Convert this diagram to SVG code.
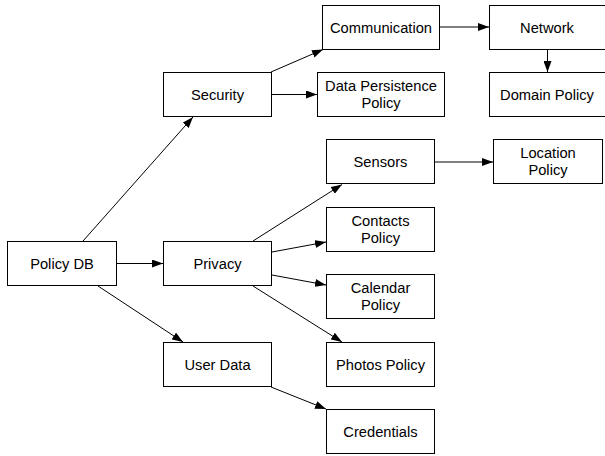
<svg xmlns="http://www.w3.org/2000/svg" width="605" height="456" viewBox="0 0 605 456">
<defs>
<style>
.box{fill:#fff;stroke:#000;stroke-width:1}
.lbl{font-family:"Liberation Sans",Helvetica,Arial,sans-serif;font-size:14.7px;fill:#000;text-anchor:middle}
.edge{stroke:#000;stroke-width:1;fill:none;marker-end:url(#arr)}
</style>
<marker id="arr" viewBox="0 0 11 8" markerWidth="11" markerHeight="8" markerUnits="userSpaceOnUse" refX="11" refY="4" orient="auto">
<path d="M0,0 L11,4 L0,8 z" fill="#000"/>
</marker>
</defs>
<rect width="605" height="456" fill="#fff"/>
<g id="connectors">
<line class="edge" x1="83" y1="241" x2="193" y2="117"/>
<line class="edge" x1="117" y1="263.5" x2="163" y2="263.5"/>
<line class="edge" x1="98" y1="286" x2="183" y2="342"/>
<line class="edge" x1="271" y1="72" x2="323" y2="49.5"/>
<line class="edge" x1="271" y1="94.5" x2="317" y2="94.5"/>
<line class="edge" x1="439" y1="27" x2="489" y2="27"/>
<line class="edge" x1="547.5" y1="49.5" x2="547.5" y2="72"/>
<line class="edge" x1="253" y1="241" x2="342" y2="184.5"/>
<line class="edge" x1="272" y1="252" x2="326" y2="242"/>
<line class="edge" x1="272" y1="275" x2="326" y2="285"/>
<line class="edge" x1="253" y1="286" x2="342" y2="342"/>
<line class="edge" x1="435" y1="162" x2="493" y2="162"/>
<line class="edge" x1="271" y1="387" x2="326" y2="409"/>
</g>
<g id="communication"><rect class="box" x="322.5" y="5.5" width="117" height="44"/><text class="lbl" x="381" y="32.5">Communication</text></g>
<g id="network"><rect class="box" x="489.5" y="5.5" width="117" height="44"/><text class="lbl" x="547" y="32.5">Network</text></g>
<g id="security"><rect class="box" x="163.5" y="72.5" width="108" height="44"/><text class="lbl" x="217.5" y="99.5">Security</text></g>
<g id="data-persistence"><rect class="box" x="317.5" y="72.5" width="127" height="44"/><text class="lbl" x="381" y="91.2">Data Persistence</text><text class="lbl" x="381" y="107.7">Policy</text></g>
<g id="domain-policy"><rect class="box" x="489.5" y="72.5" width="117" height="44"/><text class="lbl" x="547" y="99.5">Domain Policy</text></g>
<g id="sensors"><rect class="box" x="326.5" y="139.5" width="108" height="44"/><text class="lbl" x="380.5" y="166.5">Sensors</text></g>
<g id="location-policy"><rect class="box" x="493.5" y="139.5" width="109" height="44"/><text class="lbl" x="548" y="158.2">Location</text><text class="lbl" x="548" y="174.7">Policy</text></g>
<g id="contacts-policy"><rect class="box" x="326.5" y="207.5" width="108" height="44"/><text class="lbl" x="380.5" y="226.2">Contacts</text><text class="lbl" x="380.5" y="242.7">Policy</text></g>
<g id="policy-db"><rect class="box" x="7.5" y="241.5" width="109" height="44"/><text class="lbl" x="62" y="268.5">Policy DB</text></g>
<g id="privacy"><rect class="box" x="163.5" y="241.5" width="108" height="44"/><text class="lbl" x="217.5" y="268.5">Privacy</text></g>
<g id="calendar-policy"><rect class="box" x="326.5" y="274.5" width="108" height="44"/><text class="lbl" x="380.5" y="293.2">Calendar</text><text class="lbl" x="380.5" y="309.7">Policy</text></g>
<g id="user-data"><rect class="box" x="163.5" y="342.5" width="108" height="44"/><text class="lbl" x="217.5" y="369.5">User Data</text></g>
<g id="photos-policy"><rect class="box" x="326.5" y="342.5" width="108" height="44"/><text class="lbl" x="380.5" y="369.5">Photos Policy</text></g>
<g id="credentials"><rect class="box" x="326.5" y="409.5" width="108" height="44"/><text class="lbl" x="380.5" y="436.5">Credentials</text></g>
</svg>
